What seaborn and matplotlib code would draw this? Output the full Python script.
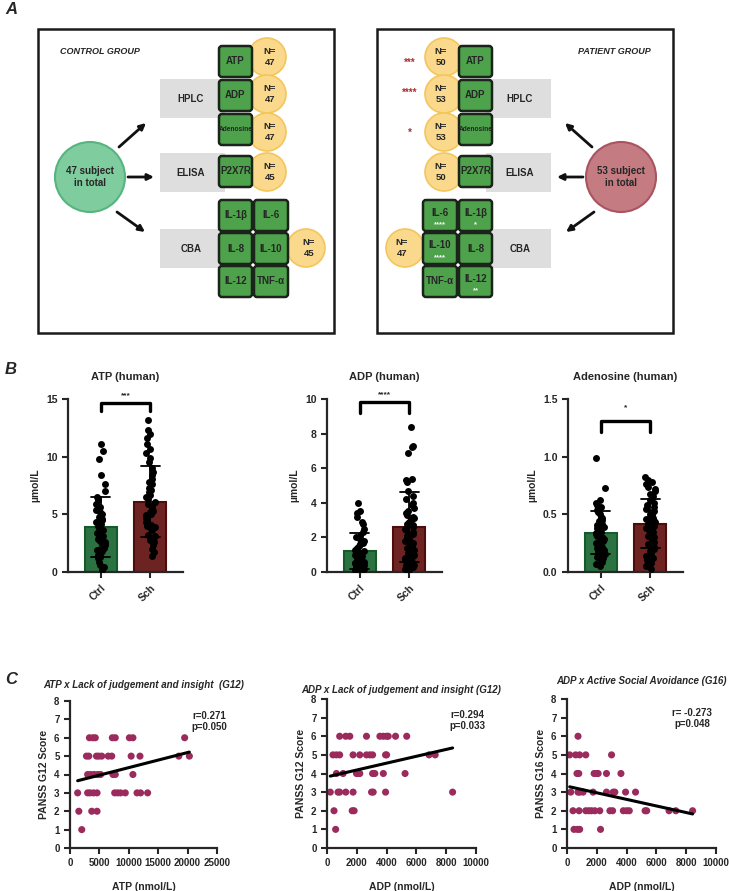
import numpy as np
import pandas as pd
import seaborn as sns
import matplotlib.pyplot as plt
from matplotlib.patches import Rectangle, Circle, FancyBboxPatch

sns.set_style('ticks')
plt.rcParams['font.family'] = ['Liberation Sans', 'DejaVu Sans']
plt.rcParams['font.weight'] = 'bold'
plt.rcParams['axes.labelweight'] = 'bold'
plt.rcParams['axes.titleweight'] = 'bold'
np.random.seed(3)

W, H = 729, 891

# ---------------- panel A data
hplc_items = ['ATP', 'ADP', 'Adenosine']
ctrl_hplc_n = [47, 47, 47]
sch_hplc_n = [50, 53, 53]
sch_hplc_stars = ['***', '****', '*']
elisa_item = 'P2X7R'
ctrl_elisa_n = 45
sch_elisa_n = 50
cba_inner = ['IL-1β', 'IL-8', 'IL-12']
cba_outer = ['IL-6', 'IL-10', 'TNF-α']
sch_cba_inner_stars = ['*', '', '**']
sch_cba_outer_stars = ['****', '****', '']
ctrl_cba_n = 45
sch_cba_n = 47
ctrl_total = 47
sch_total = 53

# ---------------- panel B data (µmol/L)
groups = ['Ctrl', 'Sch']
atp_ctrl = [11.1, 10.5, 9.8, 8.4, 7.6, 7.0, 6.5, 6.2, 5.9, 5.6, 5.4, 5.2, 5.0, 4.8, 4.6, 4.5,
            4.3, 4.2, 4.0, 3.9, 3.8, 3.6, 3.5, 3.4, 3.2, 3.1, 3.0, 2.9, 2.7, 2.6, 2.5, 2.4,
            2.3, 2.1, 2.0, 1.9, 1.8, 1.7, 1.6, 1.5, 1.4, 1.3, 1.2, 0.9, 0.6, 0.4, 0.2]
atp_sch = [13.2, 12.3, 12.0, 11.6, 11.1, 10.7, 10.3, 9.9, 9.5, 9.0, 8.7, 8.4, 8.1, 7.8, 7.6,
           7.3, 7.1, 6.9, 6.7, 6.5, 6.3, 6.1, 5.9, 5.7, 5.5, 5.3, 5.2, 5.0, 4.9, 4.7, 4.6,
           4.5, 4.3, 4.2, 4.1, 4.0, 3.9, 3.8, 3.7, 3.6, 3.2, 3.1, 3.0, 2.9, 2.8, 2.6, 2.3,
           2.0, 1.7, 1.4]
adp_ctrl = [4.0, 3.5, 3.4, 3.2, 2.9, 2.8, 2.5, 2.3, 2.1, 2.0, 1.9, 1.8, 1.7, 1.6, 1.5, 1.4,
            1.3, 1.3, 1.2, 1.1, 1.1, 1.0, 1.0, 0.9, 0.9, 0.8, 0.8, 0.7, 0.7, 0.6, 0.6, 0.5,
            0.5, 0.5, 0.4, 0.4, 0.3, 0.3, 0.3, 0.2, 0.2, 0.2, 0.1, 0.1, 0.1, 0.05, 0.05]
adp_sch = [8.4, 7.3, 7.2, 6.9, 5.4, 5.3, 5.2, 4.7, 4.4, 4.2, 4.0, 3.9, 3.7, 3.5, 3.4, 3.3,
           3.2, 3.1, 3.0, 2.9, 2.8, 2.7, 2.6, 2.5, 2.4, 2.3, 2.2, 2.1, 2.0, 1.9, 1.8, 1.8,
           1.7, 1.6, 1.5, 1.4, 1.3, 1.2, 1.1, 1.0, 0.9, 0.9, 0.8, 0.7, 0.6, 0.6, 0.5, 0.4,
           0.4, 0.3, 0.3, 0.2, 0.1]
ado_ctrl = [0.99, 0.73, 0.62, 0.60, 0.58, 0.56, 0.54, 0.52, 0.50, 0.48, 0.47, 0.45, 0.44,
            0.42, 0.41, 0.40, 0.39, 0.38, 0.37, 0.36, 0.35, 0.34, 0.33, 0.32, 0.31, 0.30,
            0.29, 0.28, 0.27, 0.26, 0.25, 0.24, 0.23, 0.22, 0.21, 0.20, 0.19, 0.18, 0.17,
            0.16, 0.15, 0.13, 0.12, 0.10, 0.09, 0.07, 0.05]
ado_sch = [0.82, 0.80, 0.78, 0.76, 0.74, 0.72, 0.70, 0.68, 0.66, 0.64, 0.62, 0.60, 0.58,
           0.56, 0.55, 0.53, 0.52, 0.50, 0.49, 0.48, 0.47, 0.46, 0.45, 0.44, 0.43, 0.42,
           0.41, 0.40, 0.39, 0.38, 0.37, 0.36, 0.35, 0.34, 0.33, 0.32, 0.31, 0.30, 0.29,
           0.28, 0.26, 0.24, 0.22, 0.20, 0.18, 0.16, 0.14, 0.12, 0.10, 0.08, 0.06, 0.05, 0.03]
b_titles = ['ATP (human)', 'ADP (human)', 'Adenosine (human)']
b_stars = ['***', '****', '*']
b_ymax = [15, 10, 1.5]
b_yticks = [[0, 5, 10, 15], [0, 2, 4, 6, 8, 10], [0, 0.5, 1.0, 1.5]]
b_bracket = [(14.0, 14.65, 15.3), (9.2, 9.83, 10.25), (1.21, 1.31, 1.42)]

# ---------------- panel C data
atp_g12_x = [3300, 3900, 4300, 7200, 7700, 10100, 10700, 19500,
             2800, 3200, 4500, 4900, 5400, 6500, 7100, 10400, 11900, 18500, 20300,
             3000, 3500, 4100, 4700, 5200, 7300, 7700, 10700,
             1300, 3000, 3400, 4000, 4600, 7600, 8100, 8600, 9400, 11400, 12000, 13200,
             1500, 3700, 4600,
             2000]
atp_g12_y = [6, 6, 6, 6, 6, 6, 6, 6,
             5, 5, 5, 5, 5, 5, 5, 5, 5, 5, 5,
             4, 4, 4, 4, 4, 4, 4, 4,
             3, 3, 3, 3, 3, 3, 3, 3, 3, 3, 3, 3,
             2, 2, 2,
             1]
adp_g12_x = [850, 1260, 1530, 2650, 3550, 3780, 4000, 4110, 4600, 5350,
             400, 630, 850, 1750, 2200, 2650, 2880, 3060, 3930, 4000, 6850, 7260,
             630, 1080, 1980, 2090, 2200, 3060, 3210, 3780, 5240,
             220, 740, 850, 1260, 1750, 2990, 3100, 3930, 8430,
             470, 1690, 1820,
             580]
adp_g12_y = [6, 6, 6, 6, 6, 6, 6, 6, 6, 6,
             5, 5, 5, 5, 5, 5, 5, 5, 5, 5, 5, 5,
             4, 4, 4, 4, 4, 4, 4, 4, 4,
             3, 3, 3, 3, 3, 3, 3, 3, 3,
             2, 2, 2,
             1]
adp_g16_x = [740,
             180, 580, 850, 1260, 2990,
             670, 790, 1820, 1980, 2090, 2650, 3620,
             250, 740, 850, 1080, 1750, 2650, 3100, 3210, 3930, 4600,
             400, 810, 1260, 1460, 1640, 1870, 2200, 2880, 3060, 3780, 4000, 4180, 5240,
             5350, 6850, 7300, 8430,
             470, 700, 850, 2250]
adp_g16_y = [6,
             5, 5, 5, 5, 5,
             4, 4, 4, 4, 4, 4, 4,
             3, 3, 3, 3, 3, 3, 3, 3, 3, 3,
             2, 2, 2, 2, 2, 2, 2, 2, 2, 2, 2, 2, 2,
             2, 2, 2, 2,
             1, 1, 1, 1]
c_titles = ['ATP x Lack of judgement and insight  (G12)',
            'ADP x Lack of judgement and insight (G12)',
            'ADP x Active Social Avoidance (G16)']
c_xlabels = ['ATP (nmol/L)', 'ADP (nmol/L)', 'ADP (nmol/L)']
c_ylabels = ['PANSS G12 Score', 'PANSS G12 Score', 'PANSS G16 Score']
c_stats = ['r=0.271\np=0.050', 'r=0.294\np=0.033', 'r= -0.273\np=0.048']
c_xmax = [25000, 10000, 10000]

GREEN_SQ = '#4ea24c'
GRAY_BOX = '#dedede'
YELLOW = '#fbd98c'
YELLOW_E = '#f3c65c'


def fig_rect(l, t, r, b):
    return [l / W, 1 - b / H, (r - l) / W, (b - t) / H]


fig = plt.figure(figsize=(W / 100, H / 100), dpi=100)
axA = fig.add_axes([0, 0, 1, 1])
axA.set_xlim(0, W)
axA.set_ylim(H, 0)
axA.axis('off')


def draw_group(ax, left, right, mirror, title, total, fc, ec, hplc_n, elisa_n, cba_n,
               hplc_stars=None, inner_stars=None, outer_stars=None):
    def X(r):
        return right - r if mirror else left + r

    def span(a, b):
        return (right - b if mirror else left + a), b - a

    ax.add_patch(Rectangle((left, 29), right - left, 304, fill=False, lw=1.8, ec='#1a1a1a'))
    ax.text(X(22), 52, title, ha='right' if mirror else 'left', va='center',
            fontsize=6.5, style='italic')

    # big subject circle
    ax.add_patch(Circle((X(52), 177), 35, fc=fc, ec=ec, lw=1.5))
    ax.text(X(52), 177, f'{total} subject\nin total', ha='center', va='center',
            fontsize=7, linespacing=1.3)

    # arrows
    for (x0, y0), (x1, y1) in [((81, 147), (108, 123)), ((90, 177), (116, 177)),
                               ((79, 212), (107, 232))]:
        ax.annotate('', xy=(X(x1), y1), xytext=(X(x0), y0),
                    arrowprops=dict(arrowstyle='-|>', lw=2, color='#111111',
                                    mutation_scale=9, shrinkA=0, shrinkB=0))

    # gray method boxes
    for top, name in [(79, 'HPLC'), (153, 'ELISA'), (229, 'CBA')]:
        x, w = span(122, 187)
        ax.add_patch(Rectangle((x, top), w, 39, fc=GRAY_BOX, ec='none', zorder=1))
        ax.text(X(153), top + 19.5, name, ha='center', va='center', fontsize=7, zorder=5)

    def square(a, b, top, label, size=7, star=''):
        x, w = span(a, b)
        ax.add_patch(FancyBboxPatch((x + 1, top + 1), w - 2, 31,
                                    boxstyle='round,pad=0,rounding_size=3',
                                    fc=GREEN_SQ, ec='#1b241b', lw=1.8, zorder=4))
        dy = -3 if star else 0
        ax.text(X((a + b) / 2), top + 16.5 + dy, label, ha='center', va='center',
                fontsize=size, zorder=5)
        if star:
            ax.text(X((a + b) / 2), top + 25.5, star, ha='center', va='center',
                    fontsize=5.5, color='white', zorder=5)

    def ncircle(cx, cy, n):
        ax.add_patch(Circle((X(cx), cy), 19, fc=YELLOW, ec=YELLOW_E, lw=1.2, zorder=3))
        ax.text(X(cx + 3), cy, f'N=\n{n}', ha='center', va='center', fontsize=6.8,
                linespacing=1.2, zorder=5)

    for i, (item, n) in enumerate(zip(hplc_items, hplc_n)):
        top = [45, 79, 113][i]
        square(180, 215, top, item, size=4.8 if item == 'Adenosine' else 7)
        ncircle(229, [57, 94, 132][i], n)
        if hplc_stars:
            ax.text(X(263), [63, 93, 133][i], hplc_stars[i], ha='center', va='center',
                    fontsize=7, color='#a33434')
    square(180, 215, 155, elisa_item)
    ncircle(229, 172, elisa_n)

    for r in range(3):
        top = 199 + 33 * r
        square(180, 215, top, cba_inner[r], star=inner_stars[r] if inner_stars else '')
        square(215, 251, top, cba_outer[r], star=outer_stars[r] if outer_stars else '')
    ncircle(268, 248, cba_n)


draw_group(axA, 38, 334, False, 'CONTROL GROUP', ctrl_total, '#7fcc9e', '#56b57f',
           ctrl_hplc_n, ctrl_elisa_n, ctrl_cba_n)
draw_group(axA, 377, 673, True, 'PATIENT GROUP', sch_total, '#c47b82', '#a95460',
           sch_hplc_n, sch_elisa_n, sch_cba_n, hplc_stars=sch_hplc_stars,
           inner_stars=sch_cba_inner_stars, outer_stars=sch_cba_outer_stars)

for lab, y in [('A', 10), ('B', 369), ('C', 680)]:
    axA.text(5, y, lab, fontsize=12, style='italic', ha='left', va='center')

# ---------------- panel B
b_data = [(atp_ctrl, atp_sch), (adp_ctrl, adp_sch), (ado_ctrl, ado_sch)]
b_lefts = [68, 327, 568]
bar_colors = ['#1f7d3c', '#7a1717']
bar_edges = ['#145a2a', '#4e0d0d']
for i, (ctrl, sch) in enumerate(b_data):
    ax = fig.add_axes(fig_rect(b_lefts[i], 399, b_lefts[i] + 115, 572))
    df = pd.DataFrame({'group': ['Ctrl'] * len(ctrl) + ['Sch'] * len(sch),
                       'value': ctrl + sch})
    sns.barplot(data=df, x='group', y='value', hue='group', order=groups,
                palette=bar_colors, errorbar='sd', capsize=0.38, width=0.65,
                linewidth=1.5, err_kws={'color': 'black', 'linewidth': 1.3},
                legend=False, ax=ax)
    for p, ec in zip(ax.patches, bar_edges):
        p.set_edgecolor(ec)
    sns.stripplot(data=df, x='group', y='value', order=groups, color='black',
                  size=5, jitter=0.1, ax=ax, zorder=3)
    lo, top, star_y = b_bracket[i]
    ax.plot([0, 0, 1, 1], [lo, top, top, lo], color='black', lw=2.4, clip_on=False)
    ax.text(0.5, star_y, b_stars[i], ha='center', va='center', fontsize=6)
    ax.set_xlim(-0.66, 1.66)
    ax.set_ylim(0, b_ymax[i])
    ax.set_yticks(b_yticks[i])
    ax.set_xlabel('')
    ax.set_ylabel('µmol/L', fontsize=7.5)
    ax.set_title(b_titles[i], fontsize=8, pad=14)
    ax.tick_params(axis='both', labelsize=7.5, width=1.5, length=4)
    plt.setp(ax.get_xticklabels(), rotation=45, ha='right', rotation_mode='anchor')
    sns.despine(ax=ax)
    for s in ['left', 'bottom']:
        ax.spines[s].set_linewidth(1.6)

# ---------------- panel C
c_data = [(atp_g12_x, atp_g12_y), (adp_g12_x, adp_g12_y), (adp_g16_x, adp_g16_y)]
c_boxes = [(70, 701, 217, 848), (327, 699, 476, 848), (567, 699, 716, 848)]
c_pads = [9, 4, 11]
c_text_pos = [(0.95, 0.86), (0.94, 0.855), (0.84, 0.87)]
for i, (xs, ys) in enumerate(c_data):
    ax = fig.add_axes(fig_rect(*c_boxes[i]))
    sns.scatterplot(x=xs, y=ys, color='#9a2b5c', s=26, edgecolor='none', ax=ax)
    sns.regplot(x=xs, y=ys, scatter=False, ci=None, truncate=True, color='black',
                line_kws={'linewidth': 2.2}, ax=ax)
    ax.set_xlim(0, c_xmax[i])
    ax.set_ylim(0, 8)
    ax.set_yticks(range(0, 9))
    ax.set_xticks(np.linspace(0, c_xmax[i], 6))
    ax.set_title(c_titles[i], fontsize=7, style='italic', pad=c_pads[i])
    ax.set_xlabel(c_xlabels[i], fontsize=7.5, labelpad=10)
    ax.set_ylabel(c_ylabels[i], fontsize=7.5)
    ax.tick_params(axis='both', labelsize=7, width=1.5, length=4)
    tx, ty = c_text_pos[i]
    ax.text(tx, ty, c_stats[i], transform=ax.transAxes, ha='center', va='center',
            fontsize=7, linespacing=1.2)
    sns.despine(ax=ax)
    for s in ['left', 'bottom']:
        ax.spines[s].set_linewidth(1.6)

fig.savefig('out.png', dpi=100)
